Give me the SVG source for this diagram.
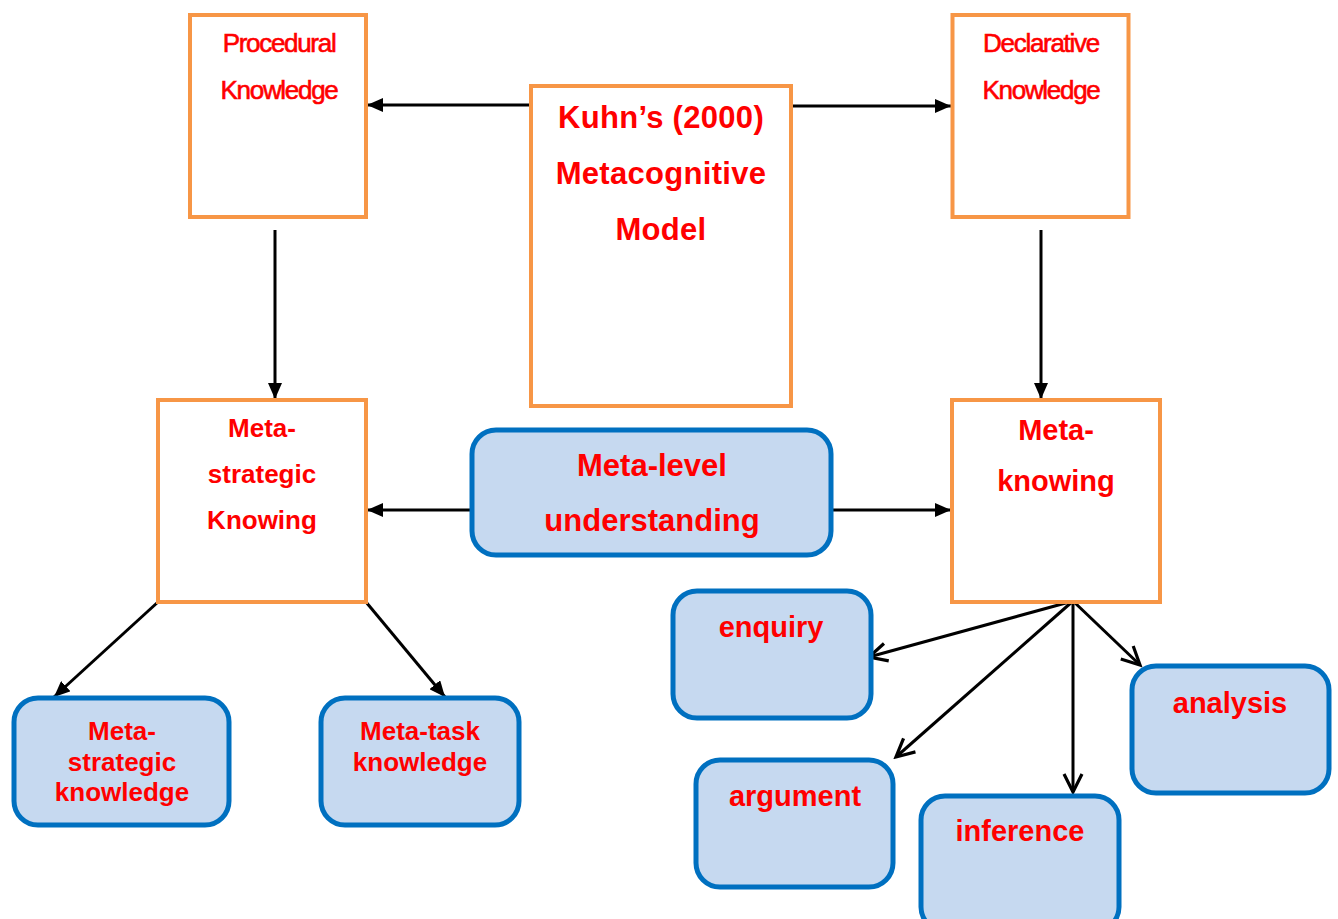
<svg xmlns="http://www.w3.org/2000/svg" width="1338" height="919" viewBox="0 0 1338 919">
  <style>
    .sq { fill: #ffffff; stroke: #F79646; stroke-width: 4; }
    .rb { fill: #C6D9F0; stroke: #0070C0; stroke-width: 5; }
    .t { font-family: "Liberation Sans", Arial, sans-serif; fill: #FF0000; text-anchor: middle; font-weight: bold; }
    .thin { font-weight: normal; font-size: 26px; letter-spacing: -1.3px; stroke: #FF0000; stroke-width: 0.6; }
    .link { stroke: #000000; stroke-width: 3; fill: none; }
  </style>
  <defs>
    <marker id="solid" viewBox="0 0 16 14" refX="16" refY="7" markerWidth="16" markerHeight="14" markerUnits="userSpaceOnUse" orient="auto">
      <path d="M0,0 L16,7 L0,14 Z" fill="#000000"/>
    </marker>
    <marker id="open" viewBox="0 0 24 24" refX="21" refY="12" markerWidth="24" markerHeight="24" markerUnits="userSpaceOnUse" orient="auto">
      <path d="M3,3 L21,12 L3,21" fill="none" stroke="#000000" stroke-width="3.2"/>
    </marker>
  </defs>

  <g id="connectors">
    <line class="link" x1="530" y1="105" x2="367" y2="105" marker-end="url(#solid)"/>
    <line class="link" x1="791" y1="106" x2="951" y2="106" marker-end="url(#solid)"/>
    <line class="link" x1="275" y1="230" x2="275" y2="399" marker-end="url(#solid)"/>
    <line class="link" x1="1041" y1="230" x2="1041" y2="399" marker-end="url(#solid)"/>
    <line class="link" x1="472" y1="510" x2="367" y2="510" marker-end="url(#solid)"/>
    <line class="link" x1="831" y1="510" x2="951" y2="510" marker-end="url(#solid)"/>
    <line class="link" x1="158" y1="602" x2="54" y2="697" marker-end="url(#solid)"/>
    <line class="link" x1="366" y1="602" x2="445" y2="697" marker-end="url(#solid)"/>
    <line class="link" x1="1073" y1="601" x2="869" y2="657" marker-end="url(#open)"/>
    <line class="link" x1="1073" y1="601" x2="896" y2="757" marker-end="url(#open)"/>
    <line class="link" x1="1073" y1="601" x2="1073" y2="792" marker-end="url(#open)"/>
    <line class="link" x1="1073" y1="601" x2="1140" y2="665" marker-end="url(#open)"/>
  </g>

  <g id="procedural">
    <rect class="sq" x="190" y="15" width="176" height="202"/>
    <text class="t thin" x="279" y="52">Procedural</text>
    <text class="t thin" x="279" y="99">Knowledge</text>
  </g>

  <g id="kuhn">
    <rect class="sq" x="531" y="86" width="260" height="320"/>
    <text class="t" x="661" y="128" font-size="31" letter-spacing="0.3">Kuhn’s (2000)</text>
    <text class="t" x="661" y="184" font-size="31" letter-spacing="0.3">Metacognitive</text>
    <text class="t" x="661" y="240" font-size="31" letter-spacing="0.3">Model</text>
  </g>

  <g id="declarative">
    <rect class="sq" x="952.5" y="15" width="176" height="202"/>
    <text class="t thin" x="1041" y="52">Declarative</text>
    <text class="t thin" x="1041" y="99">Knowledge</text>
  </g>

  <g id="meta-strategic-knowing">
    <rect class="sq" x="158" y="400" width="208" height="202"/>
    <text class="t" x="262" y="437" font-size="26">Meta-</text>
    <text class="t" x="262" y="483" font-size="26">strategic</text>
    <text class="t" x="262" y="529" font-size="26">Knowing</text>
  </g>

  <g id="meta-level-understanding">
    <rect class="rb" x="472" y="430" width="359" height="125" rx="24"/>
    <text class="t" x="652" y="476" font-size="31">Meta-level</text>
    <text class="t" x="652" y="531" font-size="31">understanding</text>
  </g>

  <g id="meta-knowing">
    <rect class="sq" x="952" y="400" width="208" height="202"/>
    <text class="t" x="1056" y="440" font-size="29">Meta-</text>
    <text class="t" x="1056" y="491" font-size="29">knowing</text>
  </g>

  <g id="meta-strategic-knowledge">
    <rect class="rb" x="14" y="698" width="215" height="127" rx="24"/>
    <text class="t" x="122" y="740" font-size="26">Meta-</text>
    <text class="t" x="122" y="771" font-size="26">strategic</text>
    <text class="t" x="122" y="801" font-size="26">knowledge</text>
  </g>

  <g id="meta-task-knowledge">
    <rect class="rb" x="321" y="698" width="198" height="127" rx="24"/>
    <text class="t" x="420" y="740" font-size="26">Meta-task</text>
    <text class="t" x="420" y="771" font-size="26">knowledge</text>
  </g>

  <g id="enquiry">
    <rect class="rb" x="673" y="591" width="198" height="127" rx="24"/>
    <text class="t" x="771" y="637" font-size="29">enquiry</text>
  </g>

  <g id="argument">
    <rect class="rb" x="696" y="760" width="197" height="127" rx="24"/>
    <text class="t" x="795" y="806" font-size="29">argument</text>
  </g>

  <g id="inference">
    <rect class="rb" x="921" y="796" width="198" height="135" rx="24"/>
    <text class="t" x="1020" y="841" font-size="29">inference</text>
  </g>

  <g id="analysis">
    <rect class="rb" x="1132" y="666" width="197" height="127" rx="24"/>
    <text class="t" x="1230" y="713" font-size="29">analysis</text>
  </g>
</svg>
